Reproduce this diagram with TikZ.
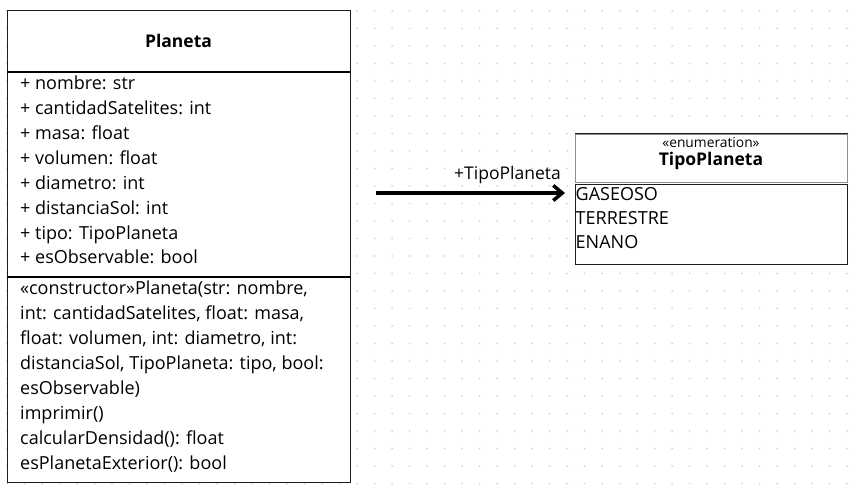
\documentclass[tikz,border=0pt]{standalone}
\usepackage{fontspec}
\setmainfont{Open Sans}
\usepackage{xcolor}
\usetikzlibrary{arrows.meta,positioning,calc}
\definecolor{griddot}{RGB}{206,211,222}
\definecolor{edge}{RGB}{30,30,30}
\definecolor{softedge}{RGB}{140,140,140}
\newcommand{\txt}[1]{\fontsize{#1}{24.9}\selectfont}

\begin{document}
\begin{tikzpicture}[x=1pt,y=-1pt,
    box/.style={draw=edge,line width=1pt,fill=white,inner sep=0pt,anchor=north west},
    member/.style={anchor=base west,inner sep=0pt,align=left,font=\txt{18}},
    sep/.style={draw=black,line width=2pt}]
    \useasboundingbox (0,0) rectangle (857,486);
    \foreach \i in {0,...,48}
      \foreach \j in {0,...,27}
        \fill[griddot] (7+17.5*\i,11+17.5*\j) circle (1pt);

    \node[box,minimum width=343pt,minimum height=472pt] (planeta) at (7,10) {};
    \draw[sep] ([yshift=-62pt]planeta.north west) -- ([yshift=-62pt]planeta.north east);
    \draw[sep] ([yshift=-267pt]planeta.north west) -- ([yshift=-267pt]planeta.north east);
    \node[anchor=base,inner sep=0pt,font=\bfseries\txt{17.5}] (planetaName) at (178.5,48) {Planeta};
    % base of a multi-line node is its last line
    \node[member] (planetaAttrs) at (20,264) {%
      + nombre: str\\
      + cantidadSatelites: int\\
      + masa: float\\
      + volumen: float\\
      + diametro: int\\
      + distanciaSol: int\\
      + tipo: TipoPlaneta\\
      + esObservable: bool};
    \node[member] (planetaOps) at (20,469) {%
      «constructor»Planeta(str: nombre,\\
      int: cantidadSatelites, float: masa,\\
      float: volumen, int: diametro, int:\\
      distanciaSol, TipoPlaneta: tipo, bool:\\
      esObservable)\\
      imprimir()\\
      calcularDensidad(): float\\
      esPlanetaExterior(): bool};

    \node[box,draw=softedge,minimum width=272pt,minimum height=48pt] (tipoHead) at (575,134) {};
    \draw[edge,line width=1pt] (tipoHead.north west) -- (tipoHead.north east);
    \node[box,minimum width=272pt,minimum height=80pt] (tipoBody) at (575,184) {};
    \node[anchor=base,inner sep=0pt,font=\txt{13.8}] (tipoStereo) at (711,148) {«enumeration»};
    \node[anchor=base,inner sep=0pt,font=\bfseries\txt{17.5}] (tipoName) at (711,166) {TipoPlaneta};
    \node[member,font=\fontsize{18}{24}\selectfont] (tipoItems) at (575.5,249) {%
      GASEOSO\\
      TERRESTRE\\
      ENANO};

    \coordinate (assocStart) at (376,193);
    \coordinate (assocEnd) at (565,193);
    \draw[-{Straight Barb[length=9pt,width=15pt]},line width=3.5pt] (assocStart) -- (assocEnd);
    \node[anchor=base east,inner sep=0pt,font=\txt{17.5}] (assocRole) at (561,180) {+TipoPlaneta};
  \end{tikzpicture}
\end{document}
